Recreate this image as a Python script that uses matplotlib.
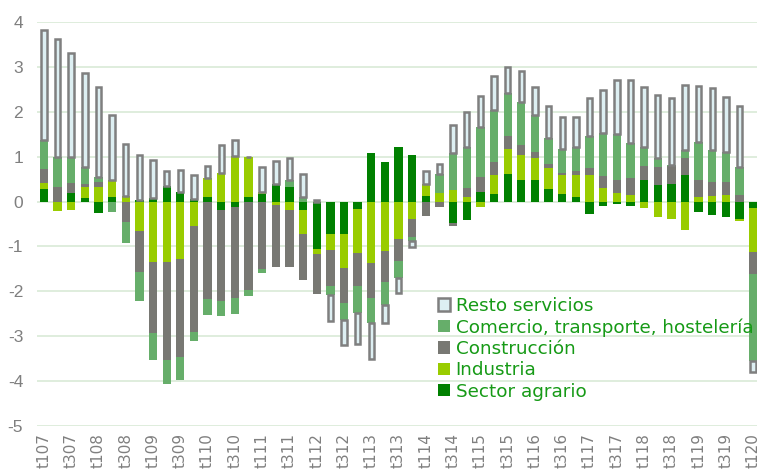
import matplotlib
matplotlib.use("Agg")
import matplotlib.pyplot as plt
import numpy as np

plt.rcParams["font.family"] = ["Liberation Sans", "DejaVu Sans"]
plt.rcParams["axes.unicode_minus"] = False

quarters = [
    "t107", "t207", "t307", "t407", "t108", "t208", "t308", "t408",
    "t109", "t209", "t309", "t409", "t110", "t210", "t310", "t410",
    "t111", "t211", "t311", "t411", "t112", "t212", "t312", "t412",
    "t113", "t213", "t313", "t413", "t114", "t214", "t314", "t414",
    "t115", "t215", "t315", "t415", "t116", "t216", "t316", "t416",
    "t117", "t217", "t317", "t417", "t118", "t218", "t318", "t418",
    "t119", "t219", "t319", "t419", "t120",
]

agrario = [
    0.28, 0.00, 0.20, 0.07, -0.25, 0.10, 0.00, 0.04,
    0.08, 0.34, 0.21, 0.05, 0.10, -0.19, -0.12, 0.10,
    0.17, 0.38, 0.33, -0.18, -1.05, -0.72, -0.72, -0.16,
    1.08, 0.88, 1.21, 1.04, 0.13, 0.00, -0.48, -0.42,
    0.22, 0.17, 0.62, 0.47, 0.48, 0.28, 0.16, 0.11,
    -0.27, -0.09, -0.06, -0.09, 0.47, 0.36, 0.38, 0.58,
    -0.24, -0.30, -0.35, -0.39, -0.15,
]
industria = [
    0.13, -0.22, -0.20, 0.26, 0.33, 0.37, 0.13, -0.65,
    -1.34, -1.35, -1.28, -0.55, 0.42, 0.63, 1.01, 0.89,
    0.04, -0.08, -0.20, -0.54, -0.13, -0.37, -0.76, -0.98,
    -1.37, -1.11, -0.83, -0.39, 0.26, 0.20, 0.26, 0.11,
    -0.13, 0.41, 0.54, 0.56, 0.50, 0.47, 0.42, 0.47,
    0.58, 0.30, 0.19, 0.15, -0.15, -0.35, -0.39, -0.63,
    0.11, 0.13, 0.15, -0.05, -0.97,
]
construccion = [
    0.32, 0.32, 0.22, 0.07, 0.11, -0.02, -0.45, -0.91,
    -1.59, -2.19, -2.19, -2.35, -2.18, -2.03, -2.04, -1.97,
    -1.51, -1.39, -1.25, -1.02, -0.89, -0.80, -0.78, -0.75,
    -0.77, -0.68, -0.50, -0.41, -0.33, -0.12, -0.07, 0.19,
    0.32, 0.30, 0.31, 0.24, 0.13, 0.09, 0.06, 0.09,
    0.17, 0.26, 0.30, 0.37, 0.33, 0.41, 0.42, 0.39,
    0.38, 0.31, 0.28, 0.15, -0.50,
]
comercio = [
    0.65, 0.68, 0.57, 0.38, 0.10, -0.22, -0.48, -0.65,
    -0.60, -0.52, -0.50, -0.20, -0.36, -0.33, -0.34, -0.13,
    -0.08, 0.00, 0.15, 0.10, 0.00, -0.20, -0.37, -0.59,
    -0.56, -0.52, -0.38, -0.09, 0.00, 0.42, 0.82, 0.91,
    1.11, 1.17, 0.95, 0.95, 0.82, 0.58, 0.52, 0.54,
    0.72, 0.97, 1.02, 0.78, 0.42, 0.20, 0.02, 0.18,
    0.83, 0.71, 0.68, 0.62, -1.93,
]
resto = [
    2.45, 2.62, 2.31, 2.08, 2.02, 1.46, 1.15, 1.00,
    0.85, 0.35, 0.50, 0.54, 0.27, 0.62, 0.35, 0.00,
    0.56, 0.52, 0.48, 0.52, 0.04, -0.58, -0.57, -0.70,
    -0.80, -0.39, -0.33, -0.13, 0.28, 0.22, 0.62, 0.78,
    0.71, 0.75, 0.57, 0.68, 0.63, 0.71, 0.72, 0.67,
    0.84, 0.95, 1.20, 1.41, 1.34, 1.41, 1.48, 1.45,
    1.26, 1.37, 1.22, 1.36, -0.26,
]

series = [
    ("Sector agrario", agrario, "#008000"),
    ("Industria", industria, "#99cc00"),
    ("Construcción", construccion, "#787873"),
    ("Comercio, transporte, hostelería", comercio, "#66ae6a"),
    ("Resto servicios", resto, "#ddeff2"),
]

x = np.arange(len(quarters))
fig = plt.figure(figsize=(7.57, 4.69), dpi=100)
ax = fig.add_axes([0.049, 0.092, 0.955, 0.861])

pos_base = np.zeros(len(x))
neg_base = np.zeros(len(x))
handles = []
for name, vals, color in series:
    v = np.array(vals)
    bottom = np.where(v >= 0, pos_base, neg_base)
    if name == "Resto servicios":
        h = ax.bar(x, v, bottom=bottom, width=0.40, color=color,
                   edgecolor="#7f7f7f", linewidth=1.8, label=name, zorder=3)
    else:
        h = ax.bar(x, v, bottom=bottom, width=0.61, color=color,
                   linewidth=0, label=name, zorder=3)
    handles.append(h)
    pos_base = pos_base + np.where(v > 0, v, 0)
    neg_base = neg_base + np.where(v < 0, v, 0)

ax.set_ylim(-5, 4)
ax.set_xlim(-0.5, len(x) - 0.5)
ax.set_yticks(range(-5, 5))
ax.grid(axis="y", color="#d6e8d3", linewidth=1.1, zorder=0)
ax.set_axisbelow(True)
for s in ax.spines.values():
    s.set_visible(False)

tick_pos = x[::2]
ax.set_xticks(tick_pos)
ax.set_xticklabels([quarters[i] for i in tick_pos], rotation=90, va="top",
                   ha="center", fontsize=11, color="#7f7f7f",
                   family=["DejaVu Sans"])
ax.tick_params(axis="x", length=0, pad=5)
ax.tick_params(axis="y", length=0, pad=10, labelsize=12.5, labelcolor="#7f7f7f")

leg = ax.legend(handles[::-1], [s[0] for s in series[::-1]],
                loc="upper left", bbox_to_anchor=(0.579, 0.367),
                bbox_transform=fig.transFigure, frameon=False,
                prop={"family": "DejaVu Sans", "size": 13.2},
                handlelength=0.65, handleheight=0.65, borderaxespad=0,
                handletextpad=0.3, labelspacing=0.18, borderpad=0)
for t in leg.get_texts():
    t.set_color("#169a16")

fig.savefig("out.png", dpi=100)
